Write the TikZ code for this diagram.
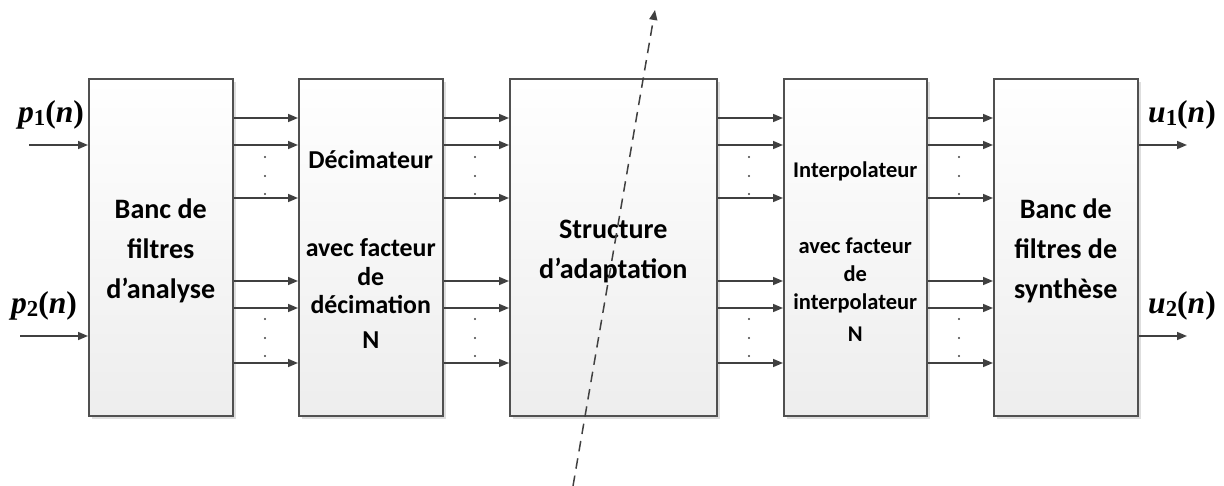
\documentclass[tikz,border=0pt]{standalone}
\usepackage{fontspec}
\setmainfont{Carlito}
\newfontfamily\labelfont{Liberation Serif}
\usetikzlibrary{positioning,arrows.meta,shadows}
\definecolor{boxline}{HTML}{505050}
\definecolor{sigline}{HTML}{404040}

\newcommand{\signame}[2]{\textit{#1}\raisebox{-0.08em}{\fontsize{13}{13}\selectfont #2}(\textit{n})}

\tikzset{
  block/.style={draw=boxline, line width=0.9pt, top color=white, bottom color=black!7,
    anchor=north west, minimum height=6.74cm, inner sep=0pt, align=center,
    drop shadow={shadow xshift=1.8pt, shadow yshift=-1.8pt, fill=black!13, opacity=1}},
  bigtext/.style={font=\bfseries\fontsize{16}{22.8}\selectfont},
  sig/.style={sigline, line width=0.85pt, -{Triangle[length=2mm,width=1.6mm]}},
  siglabel/.style={font=\labelfont\bfseries\fontsize{18}{20}\selectfont, inner sep=0pt},
}

\begin{document}
\begin{tikzpicture}[x=0.02cm, y=-0.02cm]
  \useasboundingbox (0,0) rectangle (1224,486);

  \node[block, bigtext, minimum width=2.88cm] (analyse) at (88,78)
    {\rule{0pt}{15pt}Banc de\\filtres\\d’analyse};
  \node[block, font=\bfseries\fontsize{14.7}{16.2}\selectfont, minimum width=2.88cm] (decim) at (298,78)
    {\rule{0pt}{13pt}Décimateur\\[33.9pt]avec facteur\\de\\décimation\\[3.7pt]N};
  \node[block, bigtext, minimum width=4.14cm] (adapt) at (509,78)
    {\rule{0pt}{15pt}Structure\\d’adaptation};
  \node[block, font=\bfseries\fontsize{12.8}{15.9}\selectfont, minimum width=2.86cm] (interp) at (783,78)
    {\rule{0pt}{14pt}Interpolateur\\[27.3pt]avec facteur\\de\\interpolateur\\[2.3pt]N};
  \node[block, bigtext, minimum width=2.88cm] (synth) at (993,78)
    {\rule{0pt}{15pt}Banc de\\filtres de\\synthèse};

  \coordinate (r1) at (0,118);
  \coordinate (r2) at (0,145);
  \coordinate (r3) at (0,198);
  \coordinate (r4) at (0,281);
  \coordinate (r5) at (0,308);
  \coordinate (r6) at (0,363);

  \foreach \from/\to in {analyse/decim, decim/adapt, adapt/interp, interp/synth}
    \foreach \r in {r1,r2,r3,r4,r5,r6}
      \draw[sig] (\from.east |- \r) -- (\to.west |- \r);

  \foreach \x in {265,475,749,959}
    \foreach \y in {157,176,194,319,338,356}
      \fill[sigline] (\x,\y) circle (0.65pt);

  \coordinate (in1) at (29,145);
  \coordinate (in2) at (20,336);
  \coordinate (out1) at (1187,145);
  \coordinate (out2) at (1187,336);
  \draw[sig] (in1) -- (analyse.west |- in1);
  \draw[sig] (in2) -- (analyse.west |- in2);
  \draw[sig] (synth.east |- out1) -- (out1);
  \draw[sig] (synth.east |- out2) -- (out2);

  \node[siglabel] (p1) at (51,115) {\signame{p}{1}};
  \node[siglabel] (p2) at (44,306) {\signame{p}{2}};
  \node[siglabel] (u1) at (1182,115) {\signame{u}{1}};
  \node[siglabel] (u2) at (1182,306) {\signame{u}{2}};

  \coordinate (cutlow) at (573,486);
  \coordinate (cuthigh) at (655,10);
  \draw[sig, dash pattern=on 6pt off 4pt] (cutlow) -- (cuthigh);
\end{tikzpicture}
\end{document}
